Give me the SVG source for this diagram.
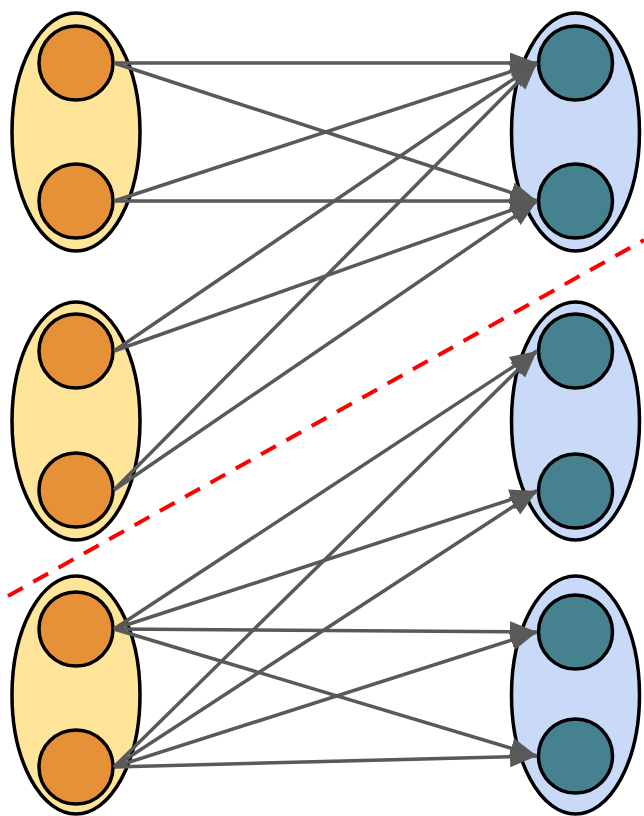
<svg xmlns="http://www.w3.org/2000/svg" width="644" height="816" viewBox="0 0 644 816">
  <style>
    .src-group { fill: #FFE599; stroke: #000; stroke-width: 3.5; }
    .dst-group { fill: #C9DAF8; stroke: #000; stroke-width: 3.5; }
    .src { fill: #E69138; stroke: #000; stroke-width: 3.5; }
    .dst { fill: #45818E; stroke: #000; stroke-width: 3.5; }
    .edge { stroke: #595959; stroke-width: 3.5; fill: none; marker-end: url(#arrow); }
    .cut { stroke: #FF0000; stroke-width: 4; stroke-dasharray: 17 12; fill: none; }
  </style>
  <defs>
    <marker id="arrow" markerUnits="userSpaceOnUse" markerWidth="28" markerHeight="22" refX="27" refY="10.5" orient="auto">
      <path d="M0,0 L27,10.5 L0,21 Z" fill="#595959"/>
    </marker>
  </defs>

  <!-- source clusters -->
  <g id="left-group-1">
    <ellipse class="src-group" cx="76" cy="132" rx="64" ry="119"/>
    <g id="l1a"><circle class="src" cx="76" cy="63" r="37"/></g>
    <g id="l1b"><circle class="src" cx="76" cy="201" r="37"/></g>
  </g>
  <g id="left-group-2">
    <ellipse class="src-group" cx="76" cy="421" rx="64" ry="119"/>
    <g id="l2a"><circle class="src" cx="76" cy="351" r="37"/></g>
    <g id="l2b"><circle class="src" cx="76" cy="490" r="37"/></g>
  </g>
  <g id="left-group-3">
    <ellipse class="src-group" cx="76" cy="695" rx="64" ry="119"/>
    <g id="l3a"><circle class="src" cx="76" cy="629" r="37"/></g>
    <g id="l3b"><circle class="src" cx="76" cy="767" r="37"/></g>
  </g>

  <!-- destination clusters -->
  <g id="right-group-1">
    <ellipse class="dst-group" cx="575.5" cy="132" rx="64" ry="119"/>
    <g id="r1a"><circle class="dst" cx="575.5" cy="63" r="37"/></g>
    <g id="r1b"><circle class="dst" cx="575.5" cy="201" r="37"/></g>
  </g>
  <g id="right-group-2">
    <ellipse class="dst-group" cx="575.5" cy="421" rx="64" ry="119"/>
    <g id="r2a"><circle class="dst" cx="575.5" cy="351" r="37"/></g>
    <g id="r2b"><circle class="dst" cx="575.5" cy="491" r="37"/></g>
  </g>
  <g id="right-group-3">
    <ellipse class="dst-group" cx="575.5" cy="695" rx="64" ry="119"/>
    <g id="r3a"><circle class="dst" cx="575.5" cy="632" r="37"/></g>
    <g id="r3b"><circle class="dst" cx="575.5" cy="756" r="37"/></g>
  </g>

  <!-- connectors -->
  <g id="edges">
    <line class="edge" x1="114" y1="63" x2="537" y2="63"/>
    <line class="edge" x1="114" y1="63" x2="537" y2="201"/>
    <line class="edge" x1="114" y1="201" x2="537" y2="63"/>
    <line class="edge" x1="114" y1="201" x2="537" y2="201"/>

    <line class="edge" x1="114" y1="351" x2="537" y2="63"/>
    <line class="edge" x1="114" y1="351" x2="537" y2="201"/>
    <line class="edge" x1="114" y1="490" x2="537" y2="63"/>
    <line class="edge" x1="114" y1="490" x2="537" y2="201"/>

    <line class="edge" x1="114" y1="629" x2="537" y2="351"/>
    <line class="edge" x1="114" y1="629" x2="537" y2="491"/>
    <line class="edge" x1="114" y1="629" x2="537" y2="632"/>
    <line class="edge" x1="114" y1="629" x2="537" y2="756"/>
    <line class="edge" x1="114" y1="767" x2="537" y2="351"/>
    <line class="edge" x1="114" y1="767" x2="537" y2="491"/>
    <line class="edge" x1="114" y1="767" x2="537" y2="632"/>
    <line class="edge" x1="114" y1="767" x2="537" y2="756"/>
  </g>

  <!-- partition line -->
  <line class="cut" x1="8" y1="596" x2="644" y2="240"/>
</svg>
